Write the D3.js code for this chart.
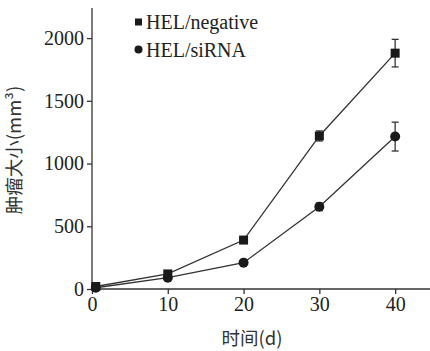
<!DOCTYPE html>
<html lang="zh">
<head>
<meta charset="UTF-8">
<script src="https://d3js.org/d3.v7.min.js"></script>
<style>
  body { margin: 0; background: #fff; }
  .tick text { font-family: "Liberation Serif", "DejaVu Serif", serif; font-size: 20px; fill: #222; }
  .axis path, .axis line { stroke: #333; stroke-width: 1.3px; }
  .series { fill: none; stroke: #333; stroke-width: 1.3px; }
  .legend-text { font-family: "Liberation Serif", serif; font-size: 20px; fill: #222; }
  .cjk { font-family: "Noto Sans CJK SC", sans-serif; font-size: 18.5px; fill: #333; }
</style>
</head>
<body>
<svg width="430" height="351"></svg>
<script>
// data
const days = [0.5, 10, 20, 30, 40];
const negative = [20, 120, 390, 1220, 1880];
const negativeErr = [10, 20, 15, 40, 110];
const siRNA = [10, 90, 210, 655, 1215];
const siRNAErr = [8, 15, 15, 30, 115];
const xTicks = [0, 10, 20, 30, 40];
const yTicks = [0, 500, 1000, 1500, 2000];

const svg = d3.select("svg");
const plotLeft = 92, plotRight = 430, plotTop = 8, plotBottom = 289;

const x = d3.scaleLinear().domain([0, 44.6]).range([plotLeft, plotRight]);
const y = d3.scaleLinear().domain([0, 2240]).range([plotBottom, plotTop]);

// axes
svg.append("g")
  .attr("class", "axis")
  .attr("transform", "translate(0," + plotBottom + ")")
  .call(d3.axisBottom(x).tickValues(xTicks).tickFormat(d3.format("d")).tickSize(5).tickPadding(3).tickSizeOuter(0))
  .call(g => g.select(".domain").attr("d", "M" + plotLeft + ",0H" + plotRight));

svg.append("g")
  .attr("class", "axis")
  .attr("transform", "translate(" + plotLeft + ",0)")
  .call(d3.axisLeft(y).tickValues(yTicks).tickFormat(d3.format("d")).tickSize(5).tickPadding(3).tickSizeOuter(0))
  .call(g => g.select(".domain").attr("d", "M0," + plotTop + "V" + plotBottom));

function drawSeries(vals, errs, shape) {
  const pts = days.map((d, i) => ({ d: d, v: vals[i], e: errs[i] }));
  svg.append("path")
    .datum(pts)
    .attr("class", "series")
    .attr("d", d3.line().x(p => x(p.d)).y(p => y(p.v)));

  const eb = svg.append("g").attr("stroke", "#333").attr("stroke-width", 1.3);
  pts.forEach(p => {
    if (p.e < 25) return;
    eb.append("line").attr("x1", x(p.d)).attr("x2", x(p.d)).attr("y1", y(p.v - p.e)).attr("y2", y(p.v + p.e));
    [p.v - p.e, p.v + p.e].forEach(v => {
      eb.append("line").attr("x1", x(p.d) - 3.5).attr("x2", x(p.d) + 3.5).attr("y1", y(v)).attr("y2", y(v));
    });
  });

  if (shape === "square") {
    svg.append("g").selectAll("rect").data(pts).join("rect")
      .attr("x", p => x(p.d) - 4.5).attr("y", p => y(p.v) - 4.5)
      .attr("width", 9).attr("height", 9).attr("fill", "#1a1a1a");
  } else {
    svg.append("g").selectAll("circle").data(pts).join("circle")
      .attr("cx", p => x(p.d)).attr("cy", p => y(p.v))
      .attr("r", 5).attr("fill", "#1a1a1a");
  }
}

drawSeries(siRNA, siRNAErr, "circle");
drawSeries(negative, negativeErr, "square");

// legend
const legend = svg.append("g");
legend.append("rect").attr("x", 135).attr("y", 18.5).attr("width", 7).attr("height", 7).attr("fill", "#1a1a1a");
legend.append("text").attr("class", "legend-text").attr("x", 146).attr("y", 29).text("HEL/negative");
legend.append("circle").attr("cx", 138.5).attr("cy", 49.5).attr("r", 4).attr("fill", "#1a1a1a");
legend.append("text").attr("class", "legend-text").attr("x", 146).attr("y", 57).text("HEL/siRNA");

// axis titles
svg.append("text")
  .attr("class", "cjk")
  .attr("text-anchor", "middle")
  .attr("transform", "translate(21,150) rotate(-90)")
  .text("肿瘤大小(mm³)");

svg.append("text")
  .attr("class", "cjk")
  .attr("text-anchor", "middle")
  .attr("x", 252).attr("y", 345)
  .text("时间(d)");
</script>
</body>
</html>
